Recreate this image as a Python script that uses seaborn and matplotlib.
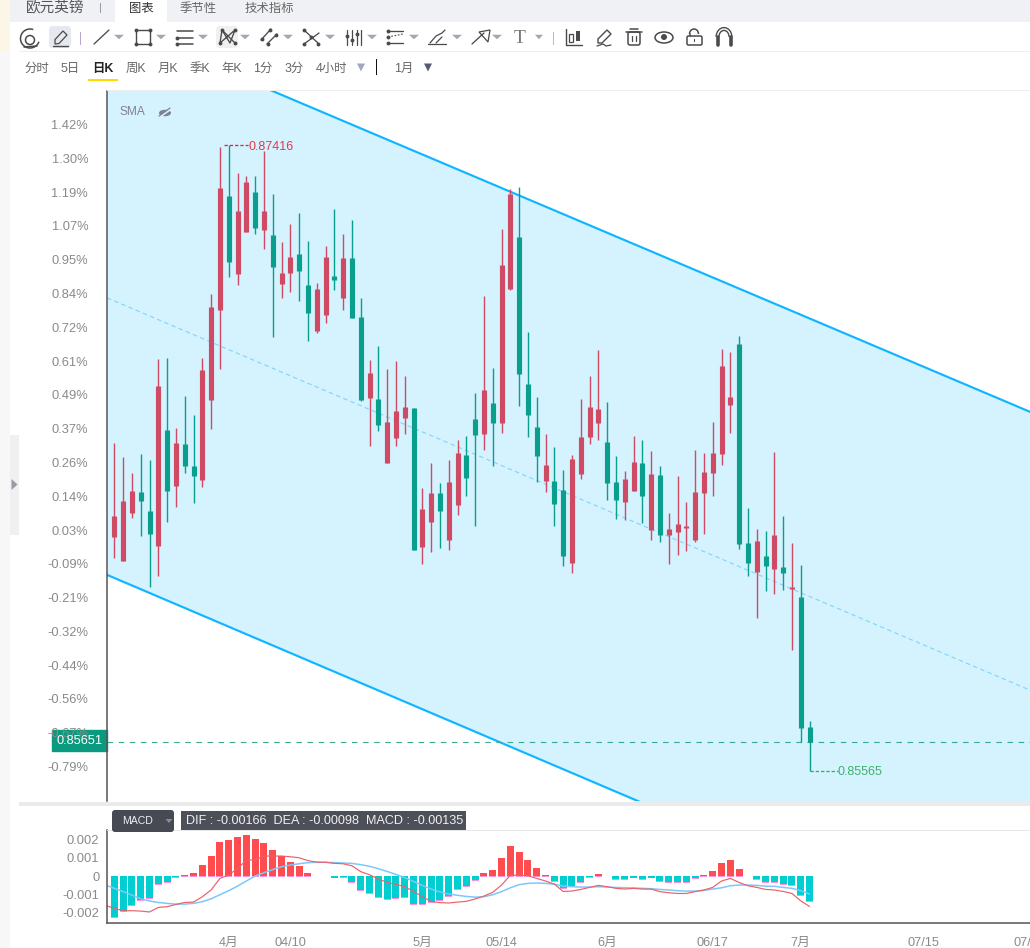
import numpy as np
import pandas as pd
import matplotlib
matplotlib.use("Agg")
import matplotlib.pyplot as plt
from matplotlib.patches import Rectangle, FancyBboxPatch, Polygon, Circle, Arc, Ellipse
import seaborn as sns

# EUR/GBP daily candles, in exchange-rate units
high = [86535,86493,86446,86502,86485,86783,86786,86579,86674,86618,86786,86975,87410,87416,87333,87324,
        87324,87398,87271,87129,87182,87215,87132,87008,87117,87227,87153,87194,86964,86780,86822,86754,
        86777,86733,86638,86402,86476,86417,86485,86544,86556,86683,86970,86756,87168,87286,87292,86863,
        86671,86561,86523,86455,86499,86665,86733,86810,86656,86496,86452,86556,86544,86511,86467,86328,
        86437,86360,86514,86505,86597,86813,86804,86851,86342,86281,86275,86508,86319,86239,86174,85713]
low = [86195,86186,86313,86260,86109,86142,86301,86346,86446,86357,86405,86576,86754,87026,87002,87159,
       87153,87109,86848,86964,86981,86955,86836,86860,86890,86987,86928,86905,86659,86526,86570,86476,
       86526,86561,86218,86177,86212,86224,86218,86322,86378,86289,86514,86467,86564,86987,86644,86553,
       86420,86390,86289,86171,86150,86428,86532,86544,86366,86310,86307,86393,86298,86248,86242,86177,
       86204,86215,86242,86266,86378,86470,86564,86221,86142,86017,86097,86088,86100,85923,85651,85565]
open_price = [86257,86186,86328,86390,86334,86230,86573,86408,86532,86467,86425,86662,86928,87265,87035,87159,
              87277,87165,87150,87005,87037,87094,87002,86866,86913,87029,86964,87082,86907,86668,86665,86476,
              86550,86609,86638,86227,86301,86387,86248,86352,86499,86606,86561,86653,86594,86990,87144,86709,
              86582,86422,86422,86396,86180,86443,86553,86594,86538,86420,86360,86393,86476,86278,86440,86263,
              86272,86283,86248,86387,86446,86502,86647,86828,86239,86153,86201,86162,86168,86103,86080,85695]
close_price = [86319,86363,86393,86363,86266,86703,86393,86535,86467,86437,86751,86937,87289,87070,87221,87307,
               87171,87221,87055,87037,87085,87043,86919,86990,87085,87017,87082,86905,86662,86742,86588,86597,
               86630,86641,86218,86340,86387,86334,86420,86505,86431,86559,86692,86594,87061,87271,86739,86618,
               86496,86470,86354,86201,86487,86553,86641,86635,86417,86366,86428,86479,86378,86443,86263,86281,
               86295,86289,86390,86449,86505,86762,86671,86236,86180,86245,86171,86263,86150,86109,85692,85651]

# MACD pane
macd_hist = [-0.00224,-0.00191,-0.00158,-0.00131,-0.00120,-0.00044,-0.00033,-0.00005,0.00005,0.00016,
             0.00060,0.00109,0.00185,0.00196,0.00213,0.00224,0.00202,0.00180,0.00142,0.00109,
             0.00076,0.00055,0.00016,0.00001,0.00001,-0.00009,-0.00005,-0.00033,-0.00076,-0.00093,
             -0.00116,-0.00125,-0.00120,-0.00115,-0.00153,-0.00155,-0.00142,-0.00131,-0.00109,-0.00071,
             -0.00055,-0.00022,0.00016,0.00033,0.00098,0.00164,0.00131,0.00087,0.00044,0.00005,
             -0.00027,-0.00067,-0.00055,-0.00033,-0.00004,0.00011,-0.00002,-0.00016,-0.00016,-0.00009,
             -0.00016,-0.00009,-0.00027,-0.00033,-0.00033,-0.00033,-0.00011,0.00005,0.00027,0.00071,
             0.00087,0.00038,0.00001,-0.00016,-0.00033,-0.00033,-0.00044,-0.00049,-0.00104,-0.00135]
dif = [-160,-176,-189,-189,-191,-196,-171,-167,-155,-144,-142,-113,-76,-13,5,42,85,89,109,109,109,105,100,84,76,
       75,69,67,56,24,7,-16,-35,-45,-58,-84,-113,-138,-145,-147,-142,-138,-125,-109,-89,-49,4,5,2,-13,-27,-44,
       -84,-82,-73,-62,-51,-58,-67,-71,-67,-71,-71,-85,-91,-95,-95,-85,-76,-62,-27,-13,-35,-53,-62,-73,-76,-84,
       -95,-135,-166]
dea = [-49,-67,-85,-104,-124,-136,-144,-149,-153,-153,-149,-140,-124,-102,-80,-55,-27,0,18,35,51,60,67,73,75,75,
       73,71,69,62,53,40,25,9,-9,-29,-51,-71,-87,-98,-105,-111,-115,-113,-102,-85,-64,-47,-40,-38,-40,-44,-55,
       -58,-60,-60,-58,-60,-62,-64,-65,-67,-69,-73,-76,-80,-82,-82,-78,-71,-64,-53,-49,-49,-51,-55,-56,-62,-67,
       -80,-98]

# Regression channel, given at the left and right edges of the chart
channel_idx = [-0.83, 104.05]
channel_upper = [0.87783, 0.86627]
channel_lower = [0.86145, 0.84982]
channel_mid = [0.86964, 0.85804]

pct_labels = ["1.42%","1.30%","1.19%","1.07%","0.95%","0.84%","0.72%","0.61%","0.49%","0.37%",
              "0.26%","0.14%","0.03%","-0.09%","-0.21%","-0.32%","-0.44%","-0.56%","-0.67%","-0.79%"]
date_idx = [13, 20, 35, 44, 56, 68, 78, 92, 104]
date_labels = ["4月","04/10","5月","05/14","6月","06/17","7月","07/15","07/29"]
macd_ticks = [0.002, 0.001, 0, -0.001, -0.002]
macd_tick_labels = ["0.002","0.001","0","-0.001","-0.002"]

periods = [("分时",36.5),("5日",70),("周K",136),("月K",167.5),("季K",199.5),("年K",231.5),
           ("1分",263),("3分",294),("4小时",331.5),("1月",404)]

RED, GREEN = "#cf4a63", "#0a9f8d"
GREY = "#8a8a8a"
ICON = "#4a4a4a"

sns.set_theme(style="white")
plt.rcParams["font.family"] = ["Liberation Sans", "Noto Sans CJK SC", "DejaVu Sans"]

W, H = 1030, 948
fig = plt.figure(figsize=(W/100, H/100), dpi=100, facecolor="white")

def axes_px(left, top, right, bottom, **kw):
    return fig.add_axes([left/W, 1-bottom/H, (right-left)/W, (bottom-top)/H], **kw)

ax = axes_px(107, 91, 1030, 801)
ax_macd = axes_px(107, 830, 1030, 923)
ui = axes_px(0, 0, W, H, zorder=10)
ui.set_xlim(0, W); ui.set_ylim(H, 0); ui.axis("off"); ui.patch.set_alpha(0)

# ---- candles ----
idx = np.arange(len(close_price))
o, c, h, l = [np.array(a)/1e5 for a in (open_price, close_price, high, low)]
trend = np.where(c >= o, "up", "down")
palette = {"up": RED, "down": GREEN}

ax.fill_between(channel_idx, channel_lower, channel_upper, color="#d5f2ff", lw=0, zorder=0.6)

wicks = pd.DataFrame({"idx": np.repeat(idx, 2), "price": np.column_stack([h, l]).ravel(),
                      "trend": np.repeat(trend, 2)})
bodies = pd.DataFrame({"idx": np.repeat(idx, 2), "price": np.column_stack([o, c]).ravel(),
                       "trend": np.repeat(trend, 2)})
sns.lineplot(data=wicks, x="idx", y="price", hue="trend", units="idx", estimator=None, sort=False,
             palette=palette, lw=1.0, solid_capstyle="butt", legend=False, ax=ax)
sns.lineplot(data=bodies, x="idx", y="price", hue="trend", units="idx", estimator=None, sort=False,
             palette=palette, lw=3.7, solid_capstyle="butt", legend=False, ax=ax)

ax.plot(channel_idx, channel_upper, color="#0fb6ff", lw=1.55, zorder=1.5)
ax.plot(channel_idx, channel_lower, color="#0fb6ff", lw=1.55, zorder=1.5)
ax.plot(channel_idx, channel_mid, color="#7fd4fb", lw=0.8, dashes=(4, 3), zorder=1.5)
ax.axhline(c[-1], color="#3aa98f", lw=0.8, dashes=(5, 5), zorder=1.6)

ax.set_xlim(channel_idx); ax.set_ylim(0.854762, 0.875757)
ax.set_axisbelow(False)
ax.set_xticks([]); ax.set_xlabel(""); ax.set_ylabel("")
ax.set_yticks(np.linspace(0.874767, 0.85578, len(pct_labels)))
ax.set_yticklabels(pct_labels, fontsize=9.3, color=GREY)
ax.tick_params(axis="y", length=0, pad=13.5)
for s in ("top", "right", "bottom"):
    ax.spines[s].set_visible(False)
ax.spines["left"].set_color("#555555"); ax.spines["left"].set_linewidth(1.1)

# high / low call-outs
hi_i, lo_i = int(np.argmax(h)), int(np.argmin(l))
ax.plot([hi_i-0.53, hi_i+2.19], [h[hi_i]]*2, color="#f0203c", lw=0.95, dashes=(2.5, 1.5))
ax.text(hi_i+2.2, h[hi_i], f"{h[hi_i]:.5f}", color="#e8354a", fontsize=9, va="center_baseline", ha="left")
ax.plot([lo_i+0.1, lo_i+3.2], [l[lo_i]]*2, color="#35b060", lw=0.95, dashes=(2.5, 1.5))
ax.text(lo_i+3.22, l[lo_i], f"{l[lo_i]:.5f}", color="#3db36a", fontsize=9, va="center_baseline", ha="left")

# last-price flag, under the tick labels
ax.add_patch(Rectangle((52, 730), 55, 21, transform=ui.transData, color="#0a9a80", clip_on=False, zorder=1))
ui.text(79.5, 741, f"{c[-1]:.5f}", color="white", fontsize=9.2, ha="center", va="center")

ui.text(120, 112, "SMA", color="#7d8199", fontsize=8.6, va="center")
ui.add_patch(Ellipse((165, 113), 12, 6.5, color="#7d8199", lw=0))
ui.plot([160, 171], [117, 109], color="#d5f2ff", lw=1.3)
ui.plot([159, 170], [116, 108], color="#7d8199", lw=0.9)

# ---- MACD ----
bars = pd.DataFrame({"idx": idx, "hist": macd_hist})
bars["sign"] = np.where(bars["hist"] >= 0, "pos", "neg")
ax_macd.set_zorder(1)
sns.barplot(data=bars, x="idx", y="hist", native_scale=True, color="#ff8fe0", saturation=1, width=0.8,
            errorbar=None, bottom=-0.00004, lw=0, ax=ax_macd)
sns.barplot(data=bars, x="idx", y="hist", hue="sign", palette={"pos": "#ff4d4f", "neg": "#00ced1"},
            hue_order=["pos", "neg"], native_scale=True, dodge=False, saturation=1, width=0.8,
            errorbar=None, legend=False, lw=0, ax=ax_macd)
line_idx = np.arange(-1, len(idx))
macd_lines = pd.DataFrame({"idx": line_idx, "dif": np.array(dif)/1e5, "dea": np.array(dea)/1e5})
sns.lineplot(data=macd_lines, x="idx", y="dea", color="#7cc8fb", lw=1.1, ax=ax_macd)
sns.lineplot(data=macd_lines, x="idx", y="dif", color="#ee5f68", lw=0.85, ax=ax_macd)

ax_macd.set_xlim(channel_idx); ax_macd.set_ylim(-0.00256, 0.00251)
ax_macd.set_xlabel(""); ax_macd.set_ylabel("")
ax_macd.set_xticks(date_idx); ax_macd.set_xticklabels(date_labels, fontsize=9.2, color=GREY)
ax_macd.set_yticks(macd_ticks); ax_macd.set_yticklabels(macd_tick_labels, fontsize=9.3, color=GREY)
ax_macd.tick_params(axis="x", length=0, pad=10)
ax_macd.tick_params(axis="y", length=0, pad=5.5)
for s in ("top", "right"):
    ax_macd.spines[s].set_visible(False)
for s in ("left", "bottom"):
    ax_macd.spines[s].set_color("#555555"); ax_macd.spines[s].set_linewidth(1.1)

# ---- page furniture, in pixel coordinates ----
def rect(x0, y0, x1, y1, color, **kw):
    ui.add_patch(Rectangle((x0, y0), x1-x0, y1-y0, color=color, lw=0, **kw))

def rounded(x0, y0, x1, y1, color, r=4):
    ui.add_patch(FancyBboxPatch((x0, y0), x1-x0, y1-y0, boxstyle=f"round,pad=0,rounding_size={r}",
                                facecolor=color, edgecolor="none"))

def tri(x, y, color="#a4a6b4", w=5, hgt=4.5):
    ui.add_patch(Polygon([(x-w, y-hgt/2), (x+w, y-hgt/2), (x, y+hgt/2)], color=color, lw=0))

def ln(xs, ys, color=ICON, lw=0.95, **kw):
    ui.plot(xs, ys, color=color, lw=lw, solid_capstyle="round", **kw)

def dots(xs, ys, color=ICON, ms=2.8):
    ui.plot(xs, ys, ls="", marker="o", ms=ms, color=color, mew=0)

rect(0, 0, 10, 52, "#fbf6e6")
rect(0, 52, 10, H, "#f7f7f7")
rect(10, 435, 19, 535, "#f0f0f2")
ui.add_patch(Polygon([(11.5, 479), (17.5, 484.5), (11.5, 490)], color="#9a9aa8", lw=0))
rect(10, 0, W, 22, "#f0f1f5")
rect(115, 0, 167, 22, "white")
rect(19, 51, W, 52, "#eeeeee")
rect(107, 90, W, 91, "#eeeeee")
rect(19, 802, W, 806, "#ebebeb")
rect(107, 830, W, 831, "#e8e8e8")

ui.text(55, 8, "欧元英镑", fontsize=10.5, color="#555555", ha="center", va="center")
rect(100, 3, 101, 13, "#9a9ab0")
ui.text(141, 8.5, "图表", fontsize=8.9, color="#333333", ha="center", va="center")
ui.text(198, 8.5, "季节性", fontsize=8.9, color="#666666", ha="center", va="center")
ui.text(269, 8.5, "技术指标", fontsize=8.9, color="#666666", ha="center", va="center")

for label, x in periods:
    ui.text(x, 68.5, label, fontsize=8.9, color="#666666", ha="center", va="center")
ui.text(102.5, 68.5, "日K", fontsize=8.9, color="#222222", ha="center", va="center", fontweight="bold")
rect(88, 79, 118, 81, "#ffd900")
tri(361, 67.5, "#a4a6c8", 4, 8)
rect(376, 59, 377, 75, "#111111")
tri(428, 67.5, "#555a70", 4, 8)

# toolbar glyphs, left to right
ui.add_patch(Arc((30, 38.5), 19, 19, theta1=20, theta2=290, color=ICON, lw=1.1))
ui.add_patch(Circle((30, 40), 4.5, fill=False, edgecolor=ICON, lw=1.1))
ln([24, 37], [47, 46], lw=1.1)
rounded(49, 26, 71, 48, "#e6e8f0")
ui.add_patch(Polygon([(55, 44), (55, 39.5), (63, 31), (67, 35), (59, 43.5)], fill=False, edgecolor=ICON, lw=0.9))
ln([53, 68], [45.5, 45.5], lw=1)
rect(80, 32, 81, 45, "#b8a8d0")
ln([94, 109], [44, 30]); tri(119, 37)
ui.add_patch(Rectangle((136, 30), 14, 14, fill=False, edgecolor=ICON, lw=1))
dots([136, 150, 136, 150], [30, 30, 44, 44]); tri(161, 37)
for yy in (31, 38, 43.5):
    ln([177, 193], [yy, yy], lw=1.1)
dots([177, 177], [38, 43.5]); tri(203, 37)
rounded(216, 26, 238, 48, "#f0f0f0")
ln([220, 222, 230, 235, 220], [43, 30, 43, 30, 43]); ln([222, 235], [30, 43])
dots([220, 222, 235, 235], [43, 30, 30, 43]); tri(245, 37)
ln([261, 271], [40, 29]); ln([267, 277], [44, 34])
dots([262, 270, 268, 276], [39, 30, 44, 35]); tri(288, 37)
ln([304, 319], [30, 44]); ln([304, 319], [44, 33])
dots([304, 311, 304, 318], [30, 37, 44, 44]); tri(330, 37)
for xx in (347, 352, 357, 361):
    ln([xx, xx], [30, 45], lw=0.9)
dots([347, 352, 357], [36, 40, 34]); tri(372, 37)
ln([388, 403], [31, 31]); ln([388, 403], [43, 43]); ln([388, 403], [37, 34], lw=0.8, ls=(0, (1.5, 1.5)))
dots([388, 388, 388], [31, 37, 43]); tri(414, 37)
ln([428, 446], [43.5, 43.5], lw=0.9); ln([430, 436, 442, 445], [43, 36, 33, 30], lw=0.9); ln([436, 442], [43, 37], lw=0.9)
tri(457, 37)
ln([472, 484], [44, 33]); ui.add_patch(Polygon([(490, 30), (479, 32), (488, 42)], fill=False, edgecolor=ICON, lw=0.9))
tri(497, 37)
ui.text(520, 38, "T", fontsize=14, family="Liberation Serif", color="#777777", ha="center", va="center")
tri(539, 37, w=4)
rect(553, 32, 554, 45, "#9fc4dc")
ln([566, 566, 582], [29, 45, 45], lw=1)
ui.add_patch(Rectangle((569, 34), 4, 8, fill=False, edgecolor=ICON, lw=0.9))
rect(576, 31, 580, 41, ICON)
ui.add_patch(Polygon([(598, 43), (598, 39), (607, 30), (611, 34), (602, 43)], fill=False, edgecolor=ICON, lw=1))
ln([597, 603, 606, 611], [46, 44, 46, 45], lw=0.9)
ln([626, 642], [32, 32], lw=1.1); ln([630, 638], [29, 29], lw=1.1)
ui.add_patch(FancyBboxPatch((628, 32), 12, 13, boxstyle="round,pad=0,rounding_size=2", fill=False, edgecolor=ICON, lw=1.1))
ln([632, 632], [36, 41], lw=0.9); ln([636, 636], [36, 41], lw=0.9)
ui.add_patch(Ellipse((664, 37.5), 18, 11, fill=False, edgecolor=ICON, lw=1.1))
ui.add_patch(Circle((664, 37), 3, color=ICON, lw=0))
ui.add_patch(FancyBboxPatch((687, 36), 15, 9, boxstyle="round,pad=0,rounding_size=1.5", fill=False, edgecolor=ICON, lw=1.1))
ui.add_patch(Arc((694, 34), 9, 10, theta1=180, theta2=360, color=ICON, lw=1.1)); ln([689.5, 689.5], [34, 36], lw=1.1)
rect(694, 39, 695, 42, ICON)
ui.add_patch(Arc((724, 37), 13, 16, theta1=180, theta2=360, color=ICON, lw=3))
ui.add_patch(Arc((724, 37), 13, 16, theta1=180, theta2=360, color="white", lw=1))
ln([717.5, 717.5], [37, 45], lw=2.6); ln([730.5, 730.5], [37, 45], lw=2.6)

# MACD selector and read-out
rounded(112, 810, 174, 832, "#474a53", r=3)
ui.text(122, 821.5, "MACD", color="#f0f0f5", fontsize=7.6, va="center")
tri(169, 821, "#8a8d98", 3.5, 4)
rect(181, 811, 466, 830, "#4d5058")
ui.text(186, 821, "DIF : -0.00166  DEA : -0.00098  MACD : -0.00135", color="#f0f0f0", fontsize=9.05, va="center")

fig.savefig("out.png", dpi=100)
